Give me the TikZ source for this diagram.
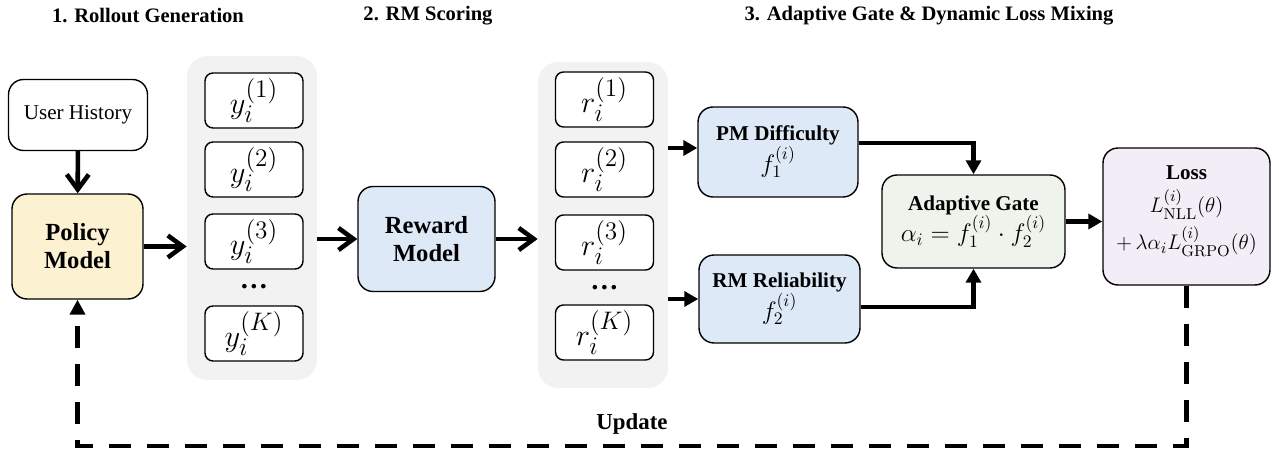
\documentclass[tikz,border=0pt]{standalone}
\usepackage[no-math]{fontspec}
\setmainfont{Liberation Serif}
\usetikzlibrary{arrows.meta,positioning}
\definecolor{policyfill}{HTML}{FCF1D0}
\definecolor{rmfill}{HTML}{DDE9F6}
\definecolor{gatefill}{HTML}{EEF4EC}
\definecolor{lossfill}{HTML}{F2EDF7}
\definecolor{panelfill}{HTML}{F2F2F2}
\newcommand{\mathsz}{\fontsize{14}{18}\selectfont}
\tikzset{
    box/.style={draw=black, line width=0.8pt, rounded corners=0.3cm, align=center,
        inner sep=2pt, font=\fontsize{12}{18}\selectfont},
    samplebox/.style={box, rounded corners=0.16cm, fill=white, minimum width=1.96cm,
        minimum height=1.1cm, font=\fontsize{19}{21}\selectfont},
    dotsnode/.style={inner sep=0pt, font=\bfseries\fontsize{16}{18}\selectfont},
    panel/.style={fill=panelfill, rounded corners=0.4cm, inner sep=0pt},
    title/.style={font=\bfseries\fontsize{11.7}{14}\selectfont},
    thickarrow/.style={line width=2.6pt, -{Straight Barb[length=3mm,width=4.4mm]}},
    flowarrow/.style={line width=2.4pt, -{Triangle[length=2.8mm,width=3mm]}},
    updline/.style={line width=2.6pt, dash pattern=on 0.44cm off 0.32cm,
        -{Triangle[length=3mm,width=3mm]}},
}
\begin{document}
\begin{tikzpicture}[x=0.02cm, y=-0.02cm]
    \useasboundingbox (0,0) rectangle (1279,455);
    % stage titles
    \node[title] (t1) at (148,16) {1. Rollout Generation};
    \node[title] (t2) at (428,16) {2. RM Scoring};
    \node[title] (t3) at (929,16) {3. Adaptive Gate \& Dynamic Loss Mixing};
    % grey panels behind the samples and the rewards
    \node[panel, minimum width=2.6cm, minimum height=6.48cm] (ypanel) at (252,218) {};
    \node[panel, minimum width=2.6cm, minimum height=6.52cm] (rpanel) at (603,225) {};
    % rollout generation
    \node[box, minimum width=2.78cm, minimum height=1.42cm] (user) at (78,115) {User History};
    \node[box, fill=policyfill, minimum width=2.62cm, minimum height=2.1cm,
        font=\bfseries\fontsize{14}{16}\selectfont] (policy) at (77.5,246.5) {Policy\\Model};
    \node[samplebox] (y1) at (254,100.5) {$y_i^{(1)}$};
    \node[samplebox] (y2) at (254,169.5) {$y_i^{(2)}$};
    \node[samplebox] (y3) at (254,241.5) {$y_i^{(3)}$};
    \node[dotsnode] (ydots) at (254,287) {\textellipsis};
    \node[samplebox] (yK) at (254,333.5) {$y_i^{(K)}$};
    % reward model scoring
    \node[box, fill=rmfill, minimum width=2.74cm, minimum height=2.1cm,
        font=\bfseries\fontsize{14}{16}\selectfont] (reward) at (426.5,239) {Reward\\Model};
    \node[samplebox] (r1) at (604.5,99.5) {$r_i^{(1)}$};
    \node[samplebox] (r2) at (604.5,169.5) {$r_i^{(2)}$};
    \node[samplebox] (r3) at (604.5,242.5) {$r_i^{(3)}$};
    \node[dotsnode] (rdots) at (604.5,288) {\textellipsis};
    \node[samplebox] (rK) at (604.5,332.5) {$r_i^{(K)}$};
    % gate and loss
    \node[box, fill=rmfill, minimum width=3.2cm, minimum height=1.8cm] (pm) at (778,152)
        {\textbf{PM Difficulty}\\{\mathsz$f_1^{(i)}$}};
    \node[box, fill=rmfill, minimum width=3.22cm, minimum height=1.76cm] (rel) at (779.5,299)
        {\textbf{RM Reliability}\\{\mathsz$f_2^{(i)}$}};
    \node[box, fill=gatefill, minimum width=3.66cm, minimum height=1.86cm] (gate) at (973.5,221.5)
        {\textbf{Adaptive Gate}\\{\mathsz$\alpha_i = f_1^{(i)}\cdot f_2^{(i)}$}};
    \node[box, fill=lossfill, minimum width=3.34cm, minimum height=2.74cm] (loss) at (1186.5,216.5) {};
    \node[align=center, font=\fontsize{12}{18}\selectfont, below=7pt of loss.north] (losstext)
        {\textbf{Loss}\\[1pt]{\fontsize{12.5}{18}\selectfont$L^{(i)}_{\mathrm{NLL}}(\theta)$}\\[3pt]%
        {\fontsize{12.5}{18}\selectfont$+\,\lambda\alpha_i L^{(i)}_{\mathrm{GRPO}}(\theta)$}};
    % connectors
    \draw[thickarrow] (user) -- (policy);
    \draw[thickarrow] (policy.east) -- (policy.east -| ypanel.west);
    \draw[thickarrow] (ypanel.east |- reward) -- (reward.west);
    \draw[thickarrow] (reward.east) -- (reward.east -| rpanel.west);
    \draw[flowarrow] ([yshift=0.08cm]pm.west -| rpanel.east) -- ([yshift=0.08cm]pm.west);
    \draw[flowarrow] (rel.west -| rpanel.east) -- (rel.west);
    \draw[flowarrow] ([yshift=0.18cm]pm.east) -| (gate.north);
    \draw[flowarrow] ([yshift=-0.16cm]rel.east) -| (gate.south);
    \draw[flowarrow] (gate.east) -- (gate.east -| loss.west);
    % update loop
    \coordinate (lowR) at (loss.south |- 0,446);
    \coordinate (lowL) at (policy.south |- 0,446);
    \draw[updline] (loss.south) -- (lowR) -- node[above=2pt, font=\bfseries\fontsize{13}{15}\selectfont] {Update}
        (lowL) -- (policy.south);
\end{tikzpicture}
\end{document}
